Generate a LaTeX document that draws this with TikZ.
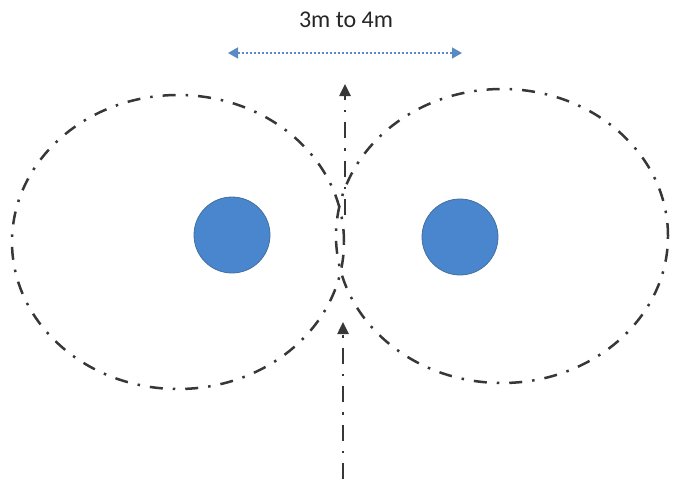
\documentclass[tikz,border=0pt]{standalone}
\usepackage{fontspec}
\setmainfont{Carlito}
\usetikzlibrary{shapes.geometric,arrows.meta}
\definecolor{dotblue}{RGB}{74,134,205}
\definecolor{dotedge}{RGB}{65,113,156}
\definecolor{arrblue}{RGB}{88,140,192}
\definecolor{dashgray}{RGB}{55,55,55}
\tikzset{
  zone/.style={ellipse, draw=dashgray, line width=2.5pt, dash pattern=on 13pt off 10pt on 2.5pt off 10pt, minimum width=332pt, minimum height=294pt, inner sep=0pt},
  tree/.style={circle, fill=dotblue, draw=dotedge, line width=0.8pt, minimum size=76pt, inner sep=0pt},
  path/.style={draw=dashgray, line width=2.5pt, dash pattern=on 16pt off 10pt on 2.5pt off 10pt, -{Triangle[length=12pt,width=11pt]}},
  gap/.style={draw=arrblue, line width=1.5pt, dash pattern=on 2.5pt off 1.5pt, {Triangle[length=10pt,width=11pt]}-{Triangle[length=10pt,width=11pt]}},
  lbl/.style={font=\fontsize{24}{28}\selectfont, text=black!85}
}
\begin{document}
\begin{tikzpicture}[x=1pt,y=-1pt]
\useasboundingbox (0,0) rectangle (676,479);
\node[zone] (lz) at (178,242) {};
\node[zone] (rz) at (502,236) {};
\node[tree] (lt) at (232,235) {};
\node[tree] (rt) at (460,237) {};
\coordinate (ua) at (345,215);
\coordinate (ub) at (345,84);
\coordinate (la) at (343,479);
\coordinate (lb) at (343,322);
\draw[path] (ua) -- (ub);
\draw[path] (la) -- (lb);
\coordinate (gl) at (228,53);
\coordinate (gr) at (462,53);
\draw[gap] (gl) -- (gr);
\node[lbl] (t) at (346,20) {3m to 4m};
\end{tikzpicture}
\end{document}
